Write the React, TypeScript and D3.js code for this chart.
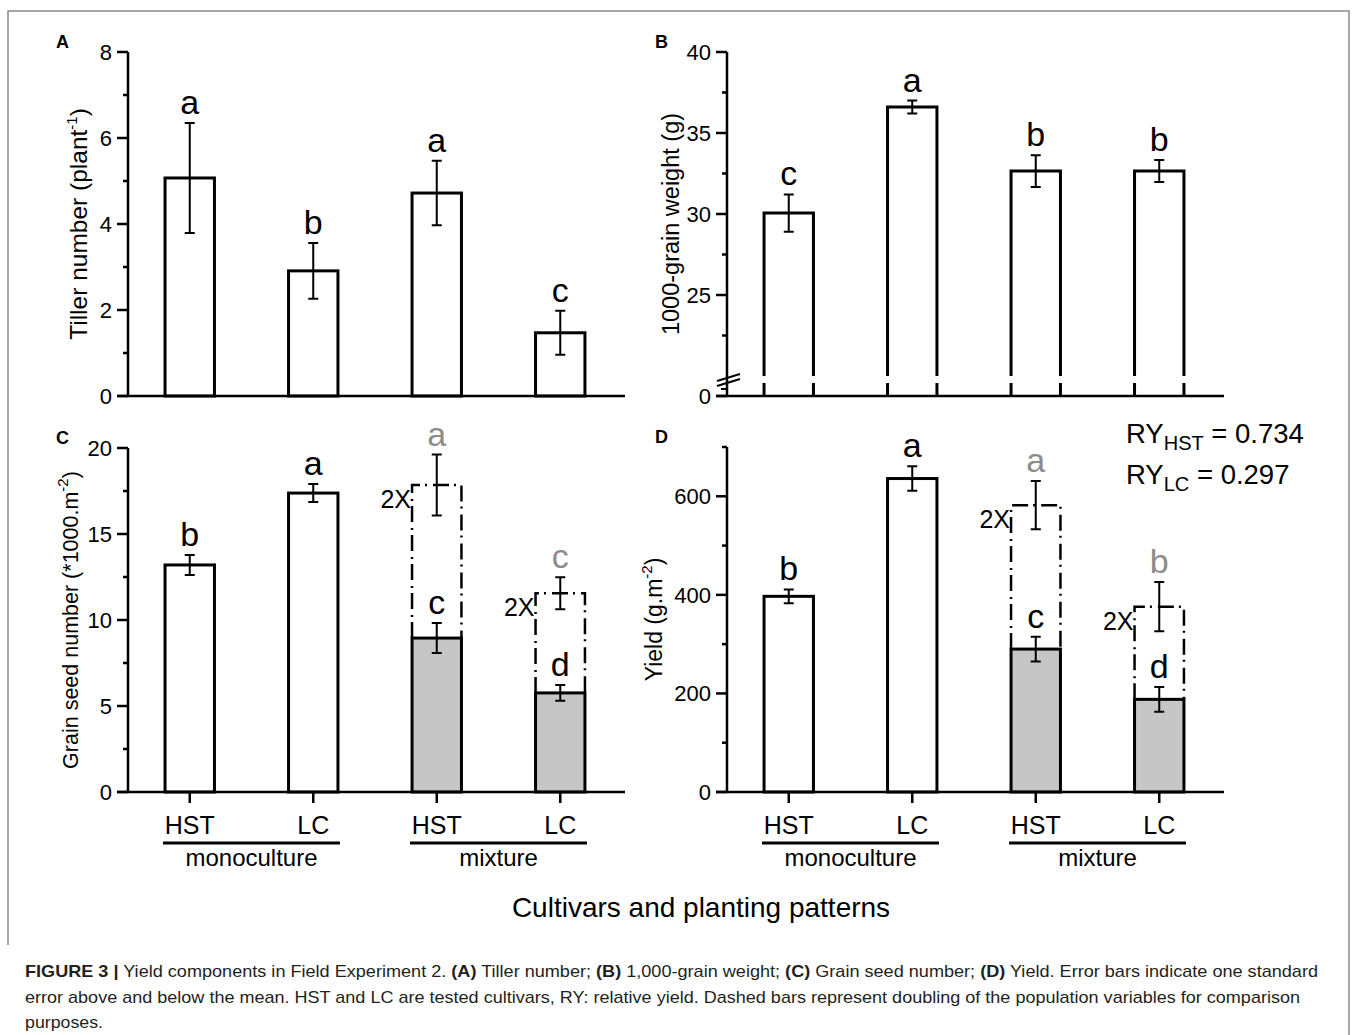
import React from 'react';
import * as d3 from 'd3';

// cultivars on the x axis, grouped by planting pattern
const cultivars = ['HST', 'LC', 'HST', 'LC'];
const patterns = ['monoculture', 'mixture'];

// (A) tiller number per plant
const tillerMean = [5.07, 2.91, 4.72, 1.47];
const tillerSE = [1.28, 0.65, 0.75, 0.51];
const tillerLetters = ['a', 'b', 'a', 'c'];

// (B) 1000-grain weight (g)
const weightMean = [30.06, 36.6, 32.65, 32.65];
const weightSE = [1.15, 0.4, 0.98, 0.68];
const weightLetters = ['c', 'a', 'b', 'b'];

// (C) grain seed number (*1000 m-2), mixture bars also shown doubled
const seedMean = [13.2, 17.38, 8.95, 5.76];
const seedSE = [0.58, 0.52, 0.87, 0.46];
const seedLetters = ['b', 'a', 'c', 'd'];
const seedDoubledMean = [17.85, 11.55];
const seedDoubledSE = [1.77, 0.93];
const seedDoubledLetters = ['a', 'c'];

// (D) yield (g m-2)
const yieldMean = [397, 636, 290, 188];
const yieldSE = [14, 25, 25, 25];
const yieldLetters = ['b', 'a', 'c', 'd'];
const yieldDoubledMean = [582, 376];
const yieldDoubledSE = [49, 50];
const yieldDoubledLetters = ['a', 'b'];

const ryLabels = ['HST', 'LC'];
const ryValues = ['0.734', '0.297'];

const FONT = '"Liberation Sans", Arial, Helvetica, sans-serif';
const GRAY = '#c6c6c6';
const PLOT_W = 494;

interface PanelProps {
  tag: string;
  x0: number;
  y: d3.ScaleLinear<number, number>;
  base: number;
  top: number;
  major: number[];
  minor: number[];
  mean: number[];
  se: number[];
  letters: string[];
  mixFill: string;
  dMean?: number[];
  dSE?: number[];
  dLetters?: string[];
  breakAt?: number;
  xLabels?: boolean;
  yLabel: React.ReactNode;
  yLabelX: number;
  yLabelSize: number;
}

const errPath = (cx: number, lo: number, hi: number) =>
  `M${cx - 5},${lo}H${cx + 5}M${cx},${lo}V${hi}M${cx - 5},${hi}H${cx + 5}`;

const Panel: React.FC<PanelProps> = (p) => {
  const x = d3.scaleBand<number>()
    .domain(d3.range(cultivars.length))
    .range([p.x0, p.x0 + PLOT_W])
    .paddingInner(0.6)
    .paddingOuter(0.3);
  const bw = x.bandwidth();
  const yAt = (v: number) => (v === 0 ? p.base : p.y(v));
  const midY = (p.top + p.base) / 2;

  return (
    <g fontFamily={FONT}>
      <text x={p.x0 - 72} y={p.top - 4} fontSize={18} fontWeight="bold">{p.tag}</text>
      <text transform={`translate(${p.yLabelX},${midY}) rotate(-90)`} textAnchor="middle" fontSize={p.yLabelSize}>
        {p.yLabel}
      </text>

      {/* bars */}
      {p.mean.map((m, i) => {
        const xl = x(i)!;
        const xr = xl + bw;
        const yt = p.y(m);
        const fill = i >= 2 ? p.mixFill : '#fff';
        if (p.breakAt !== undefined) {
          const yb = p.y(p.breakAt);
          return (
            <g key={i} stroke="#000" strokeWidth={3}>
              <rect x={xl} y={yt} width={bw} height={p.base - yt} fill={fill} stroke="none" />
              <path d={`M${xl},${yb}V${yt}H${xr}V${yb}`} fill="none" />
              <path d={`M${xl},${yb + 7}V${p.base}M${xr},${yb + 7}V${p.base}`} fill="none" />
            </g>
          );
        }
        return <rect key={i} x={xl} y={yt} width={bw} height={p.base - yt} fill={fill} stroke="#000" strokeWidth={3} />;
      })}

      {/* doubled mixture bars */}
      {p.dMean && p.dMean.map((dm, j) => {
        const i = j + 2;
        const xl = x(i)!;
        const xr = xl + bw;
        const yb = p.y(p.mean[i]);
        const yt = p.y(dm);
        return (
          <g key={'d' + j}>
            <path d={`M${xl},${yb}V${yt}H${xr}V${yb}`} fill="none" stroke="#000" strokeWidth={2.5}
              strokeDasharray="16,5,2,6" />
            <text x={xl - 1} y={yt + 23} textAnchor="end" fontSize={25}>2X</text>
          </g>
        );
      })}

      {/* axes */}
      <line x1={p.x0} x2={p.x0} y1={p.top} y2={p.base} stroke="#000" strokeWidth={2.5} />
      <line x1={p.x0 - 11} x2={p.x0 + PLOT_W + 3} y1={p.base} y2={p.base} stroke="#000" strokeWidth={2.5} />
      {p.major.map((t) => (
        <g key={'M' + t}>
          <line x1={p.x0 - 11} x2={p.x0} y1={yAt(t)} y2={yAt(t)} stroke="#000" strokeWidth={2.5} />
          <text x={p.x0 - 16} y={yAt(t)} dy="0.36em" textAnchor="end" fontSize={22}>{t}</text>
        </g>
      ))}
      {p.minor.map((t) => (
        <line key={'m' + t} x1={p.x0 - 5} x2={p.x0} y1={p.y(t)} y2={p.y(t)} stroke="#000" strokeWidth={2.5} />
      ))}
      {p.breakAt !== undefined && (
        <g stroke="#000" strokeWidth={2}>
          <line x1={p.x0 - 10} x2={p.x0 + 13} y1={p.y(p.breakAt) + 5} y2={p.y(p.breakAt) - 2} />
          <line x1={p.x0 - 10} x2={p.x0 + 13} y1={p.y(p.breakAt) + 10} y2={p.y(p.breakAt) + 3} />
          <line x1={p.x0 - 6} x2={p.x0} y1={p.y(p.breakAt) + 13} y2={p.y(p.breakAt) + 13} />
        </g>
      )}

      {/* error bars */}
      {p.mean.map((m, i) => (
        <path key={'e' + i} d={errPath(x(i)! + bw / 2, p.y(m - p.se[i]), p.y(m + p.se[i]))}
          stroke="#000" strokeWidth={2} fill="none" />
      ))}
      {p.dMean && p.dMean.map((dm, j) => (
        <path key={'de' + j} d={errPath(x(j + 2)! + bw / 2, p.y(dm - p.dSE![j]), p.y(dm + p.dSE![j]))}
          stroke="#000" strokeWidth={2} fill="none" />
      ))}

      {/* significance letters */}
      {p.letters.map((l, i) => (
        <text key={'l' + i} x={x(i)! + bw / 2} y={p.y(p.mean[i] + p.se[i]) - 9} textAnchor="middle" fontSize={34}>{l}</text>
      ))}
      {p.dLetters && p.dLetters.map((l, j) => (
        <text key={'dl' + j} x={x(j + 2)! + bw / 2} y={p.y(p.dMean![j] + p.dSE![j]) - 9} textAnchor="middle"
          fontSize={34} fill="#8c8c8c">{l}</text>
      ))}

      {/* x labels */}
      {p.xLabels && (
        <g>
          {cultivars.map((c, i) => (
            <g key={'x' + i}>
              <line x1={x(i)! + bw / 2} x2={x(i)! + bw / 2} y1={p.base} y2={p.base + 11} stroke="#000" strokeWidth={2.5} />
              <text x={x(i)! + bw / 2} y={p.base + 42} textAnchor="middle" fontSize={25}>{c}</text>
            </g>
          ))}
          {patterns.map((g, k) => {
            const a = x(k * 2)! - 2;
            const b = x(k * 2 + 1)! + bw + 2;
            return (
              <g key={'g' + k}>
                <line x1={a} x2={b} y1={p.base + 51} y2={p.base + 51} stroke="#000" strokeWidth={3} />
                <text x={(a + b) / 2} y={p.base + 74} textAnchor="middle" fontSize={24}>{g}</text>
              </g>
            );
          })}
        </g>
      )}
    </g>
  );
};

const sup = (s: string) => [
  <tspan key="s" dy={-10} fontSize={15}>{s}</tspan>,
  <tspan key="r" dy={10}>)</tspan>,
];

export default function App() {
  const yA = d3.scaleLinear().domain([0, 8]).range([396, 52]);
  const yB = d3.scaleLinear().domain([20, 40]).range([376, 52]);
  const yC = d3.scaleLinear().domain([0, 20]).range([792, 448]);
  const yD = d3.scaleLinear().domain([0, 700]).range([792, 447]);

  return (
    <svg width={1357} height={1035} style={{ position: 'absolute', left: 0, top: 0, background: '#fff' }}>
      <rect width={1357} height={1035} fill="#fff" />
      <path d="M8,945V11H1349V1035" fill="none" stroke="#8a8a8a" strokeWidth={1.5} />

      <Panel tag="A" x0={128} y={yA} base={396} top={52}
        major={[0, 2, 4, 6, 8]} minor={[1, 3, 5, 7]}
        mean={tillerMean} se={tillerSE} letters={tillerLetters} mixFill="#fff"
        yLabel={<>Tiller number (plant{sup('-1')}</>} yLabelX={87} yLabelSize={24.5} />

      <Panel tag="B" x0={727} y={yB} base={396} top={52}
        major={[0, 25, 30, 35, 40]} minor={[22.5, 27.5, 32.5, 37.5]}
        mean={weightMean} se={weightSE} letters={weightLetters} mixFill="#fff" breakAt={20}
        yLabel="1000-grain weight (g)" yLabelX={679} yLabelSize={23.5} />

      <Panel tag="C" x0={128} y={yC} base={792} top={448}
        major={[0, 5, 10, 15, 20]} minor={[2.5, 7.5, 12.5, 17.5]}
        mean={seedMean} se={seedSE} letters={seedLetters} mixFill={GRAY}
        dMean={seedDoubledMean} dSE={seedDoubledSE} dLetters={seedDoubledLetters} xLabels
        yLabel={<>Grain seed number (*1000.m{sup('-2')}</>} yLabelX={78} yLabelSize={21.5} />

      <Panel tag="D" x0={727} y={yD} base={792} top={447}
        major={[0, 200, 400, 600]} minor={[100, 300, 500, 700]}
        mean={yieldMean} se={yieldSE} letters={yieldLetters} mixFill={GRAY}
        dMean={yieldDoubledMean} dSE={yieldDoubledSE} dLetters={yieldDoubledLetters} xLabels
        yLabel={<>Yield (g.m{sup('-2')}</>} yLabelX={662} yLabelSize={23} />

      <g fontFamily={FONT} fontSize={27.5}>
        {ryLabels.map((r, i) => (
          <text key={r} x={1126} y={443 + i * 41}>
            RY<tspan dy={7} fontSize={20}>{r}</tspan><tspan dy={-7}> = {ryValues[i]}</tspan>
          </text>
        ))}
        <text x={701} y={917} textAnchor="middle" fontSize={28}>Cultivars and planting patterns</text>
      </g>

      <g fontFamily={FONT} fontSize={17} fill="#231f20">
        <text x={25} y={977} textLength={1293} lengthAdjust="spacingAndGlyphs">
          <tspan fontWeight="bold">FIGURE 3 |</tspan> Yield components in Field Experiment 2. <tspan fontWeight="bold">(A)</tspan> Tiller number; <tspan fontWeight="bold">(B)</tspan> 1,000-grain weight; <tspan fontWeight="bold">(C)</tspan> Grain seed number; <tspan fontWeight="bold">(D)</tspan> Yield. Error bars indicate one standard
        </text>
        <text x={25} y={1003} textLength={1275} lengthAdjust="spacingAndGlyphs">
          error above and below the mean. HST and LC are tested cultivars, RY: relative yield. Dashed bars represent doubling of the population variables for comparison
        </text>
        <text x={25} y={1028} textLength={78} lengthAdjust="spacingAndGlyphs">purposes.</text>
      </g>
    </svg>
  );
}
